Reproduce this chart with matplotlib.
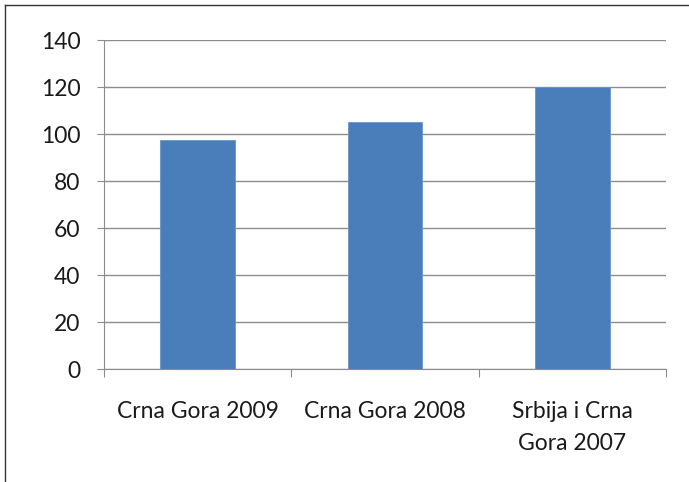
import matplotlib
matplotlib.use("Agg")
import matplotlib.pyplot as plt
from matplotlib.lines import Line2D

categories = ["Crna Gora 2009", "Crna Gora 2008", "Srbija i Crna\nGora 2007"]
values = [97.5, 105, 120]
yticks = [0, 20, 40, 60, 80, 100, 120, 140]

plt.rcParams['font.family'] = ['Lato', 'DejaVu Sans']

fig = plt.figure(figsize=(6.89, 4.82), dpi=100)
ax = fig.add_axes([104/689, 0.2344, 562/689, 0.6826])

x = range(len(categories))
ax.bar(x, values, width=0.4, color='#4A7EBB', edgecolor='#6A96CC', linewidth=0.6, zorder=3)

ax.set_xlim(-0.5, 2.5)
ax.set_ylim(0, 140)
ax.set_yticks(yticks)
ax.yaxis.grid(True, color='#8C8C8C', linewidth=1.0, zorder=0)

ax.set_xticks([-0.5, 0.5, 1.5, 2.5], minor=False)
ax.set_xticklabels([])
ax.set_xticks(list(x), minor=True)
ax.set_xticklabels(categories, minor=True, fontsize=16.5, color='#1a1a1a')
for t in ax.get_xticklabels(minor=True):
    t.set_linespacing(1.65)
ax.tick_params(axis='x', which='major', length=6, color='#8C8C8C', direction='out')
ax.tick_params(axis='x', which='minor', length=0, pad=23)
ax.tick_params(axis='y', length=5, color='#8C8C8C', labelsize=16.5, pad=12, labelcolor='#1a1a1a')

for s in ['top', 'right']:
    ax.spines[s].set_visible(False)
ax.spines['left'].set_color('#8C8C8C')
ax.spines['bottom'].set_color('#8C8C8C')

# outer chart frame (only top and left visible)
fig.add_artist(Line2D([5/689, 5/689], [0, 1 - 5/482], color='#333333', linewidth=1.0))
fig.add_artist(Line2D([5/689, 1], [1 - 5/482, 1 - 5/482], color='#333333', linewidth=1.0))

fig.savefig("out.png", dpi=100)
